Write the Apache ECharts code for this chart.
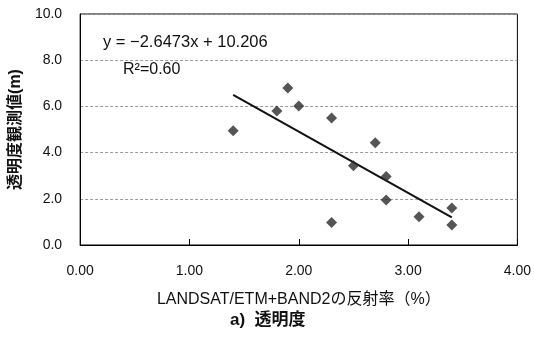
<!DOCTYPE html>
<html>
<head>
<meta charset="utf-8">
<script src="https://cdn.jsdelivr.net/npm/echarts@6/dist/echarts.min.js"></script>
<style>
  html, body { margin: 0; padding: 0; background: #fff; }
  #chart { width: 534px; height: 337px; }
</style>
</head>
<body>
<div id="chart"></div>
<script>
  // 反射率 (%) と 透明度観測値 (m)
  var reflect = [1.40, 1.80, 1.90, 2.00, 2.30, 2.30, 2.50, 2.70, 2.80, 2.80, 3.10, 3.40, 3.40];
  var secchi  = [4.95, 5.80, 6.80, 6.02, 5.50, 0.97, 3.43, 4.43, 2.96, 1.95, 1.22, 1.60, 0.87];
  // 近似直線の端点
  var trendX = [1.40, 3.40];
  var trendY = [6.50, 1.20];
  var eqText = 'y = \u22122.6473x + 10.206';
  var r2Text = 'R\u00B2=0.60';

  var latin = '"Liberation Sans", Arial, sans-serif';
  var cjk = '"Liberation Sans", "Noto Sans CJK JP", sans-serif';

  var points = [];
  for (var i = 0; i < reflect.length; i++) {
    points.push([reflect[i], secchi[i]]);
  }
  var trend = [];
  for (var j = 0; j < trendX.length; j++) {
    trend.push([trendX[j], trendY[j]]);
  }

  var chart = echarts.init(document.getElementById('chart'));
  chart.setOption({
    backgroundColor: '#fff',
    animation: false,
    grid: {
      left: 73, right: 12, top: 14, bottom: 92,
      show: true,
      borderColor: '#000',
      borderWidth: 1
    },
    xAxis: {
      type: 'value',
      min: 0, max: 4, interval: 1,
      name: 'LANDSAT/ETM+BAND2の反射率（%）',
      nameLocation: 'middle',
      nameGap: 47,
      nameTextStyle: { color: '#111', fontSize: 16, fontFamily: cjk },
      axisLine: { show: true, lineStyle: { color: '#000', width: 1 } },
      axisTick: { show: true, inside: true, length: 6, lineStyle: { color: '#000' } },
      axisLabel: {
        color: '#111', fontSize: 14, fontFamily: latin, margin: 19,
        formatter: function (v) { return v.toFixed(2); }
      },
      splitLine: { show: false }
    },
    yAxis: {
      type: 'value',
      min: 0, max: 10, interval: 2,
      name: '透明度観測値(m)',
      nameLocation: 'middle',
      nameGap: 50,
      nameTextStyle: { color: '#111', fontSize: 16, fontWeight: 'bold', fontFamily: cjk },
      axisLine: { show: true, lineStyle: { color: '#000', width: 1 } },
      axisTick: { show: false },
      axisLabel: {
        color: '#111', fontSize: 14, fontFamily: latin, margin: 18,
        formatter: function (v) { return v.toFixed(1); }
      },
      splitLine: { show: true, lineStyle: { color: '#999', type: [3, 2], width: 1 } }
    },
    series: [
      {
        name: '観測値',
        type: 'scatter',
        symbol: 'diamond',
        symbolSize: 11,
        itemStyle: { color: '#2b2b2b' },
        data: points,
        z: 3
      },
      {
        name: '近似直線',
        type: 'line',
        symbol: 'none',
        lineStyle: { color: '#111', width: 2 },
        data: trend,
        z: 2
      }
    ],
    graphic: [
      {
        type: 'text', left: 103, top: 34,
        style: { text: eqText, fill: '#111', font: '16.5px ' + latin }
      },
      {
        type: 'text', left: 123, top: 62,
        style: { text: r2Text, fill: '#111', font: '16px ' + latin }
      },
      {
        type: 'text', left: 230, top: 312,
        style: { text: 'a)  透明度', fill: '#111', font: 'bold 17px ' + cjk }
      }
    ]
  });
</script>
</body>
</html>
